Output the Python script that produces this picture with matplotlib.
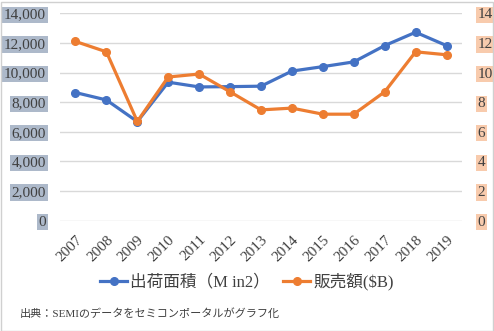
import matplotlib
matplotlib.use("Agg")
import matplotlib.pyplot as plt
from matplotlib.patches import Rectangle

plt.rcParams['font.family'] = ['Liberation Serif', 'Noto Sans CJK JP', 'DejaVu Sans']

years = ['2007', '2008', '2009', '2010', '2011', '2012', '2013',
         '2014', '2015', '2016', '2017', '2018', '2019']
area = [8650, 8150, 6690, 9350, 9030, 9050, 9080, 10100, 10400, 10720, 11820, 12720, 11820]
sales = [12.1, 11.4, 6.7, 9.7, 9.9, 8.7, 7.48, 7.6, 7.19, 7.19, 8.7, 11.4, 11.2]
left_ticks = [0, 2000, 4000, 6000, 8000, 10000, 12000, 14000]
right_ticks = [0, 2, 4, 6, 8, 10, 12, 14]
label_area = '出荷面積（M in2）'
label_sales = '販売額($B)'
source = '出典：SEMIのデータをセミコンポータルがグラフ化'

W, H = 494, 331
fig = plt.figure(figsize=(W / 100, H / 100), dpi=100)
ax = fig.add_axes([60 / W, 1 - 220.7 / H, (462 - 60) / W, (220.7 - 13.3) / H])
x = list(range(len(years)))

blue = '#4472c4'
orange = '#ed7d31'

ax.set_xlim(-0.5, len(years) - 0.5)
ax.set_ylim(0, 14000)
ax.set_yticks(left_ticks)
ax.set_yticklabels([f'{v:,}' for v in left_ticks])
for s in ax.spines.values():
    s.set_visible(False)
ax.grid(axis='y', color='#d9d9d9', linewidth=1)
ax.set_axisbelow(True)
ax.tick_params(axis='both', length=0, labelsize=11, colors='#404040')
ax.tick_params(axis='y', pad=10)
for t in ax.get_yticklabels():
    t.set_bbox(dict(facecolor='#adb9ca', edgecolor='none', pad=1.2))
ax.set_xticks(x)
ax.set_xticklabels(years, rotation=45, ha='right', rotation_mode='anchor', fontsize=11)
ax.tick_params(axis='x', pad=9)

l1, = ax.plot(x, area, color=blue, linewidth=2.3, marker='o', markersize=5.5, label=label_area, zorder=3)

ax2 = ax.twinx()
ax2.set_ylim(0, 14)
ax2.set_yticks(right_ticks)
ax2.set_yticklabels([str(v) for v in right_ticks])
for s in ax2.spines.values():
    s.set_visible(False)
ax2.tick_params(axis='y', length=0, labelsize=11, colors='#404040', pad=11)
for t in ax2.get_yticklabels():
    t.set_bbox(dict(facecolor='#f8cbad', edgecolor='none', pad=1.2))
l2, = ax2.plot(x, sales, color=orange, linewidth=2.3, marker='o', markersize=5.5, label=label_sales, zorder=3)

fig.legend(handles=[l1, l2], loc='center', bbox_to_anchor=(0.5, 1 - 282 / H), ncol=2,
           frameon=False, fontsize=12, handlelength=1.6, handletextpad=0.2, columnspacing=0.8,
           labelcolor='#404040')

fig.text(20 / W, 1 - 313 / H, source, fontsize=8, color='#404040', va='center', ha='left')

fig.patches.append(Rectangle((0.5 / W, 0.5 / H), (W - 2) / W, (H - 2) / H, transform=fig.transFigure,
                             fill=False, edgecolor='#d0d0d0', linewidth=1))

fig.savefig('out.png', dpi=100)
